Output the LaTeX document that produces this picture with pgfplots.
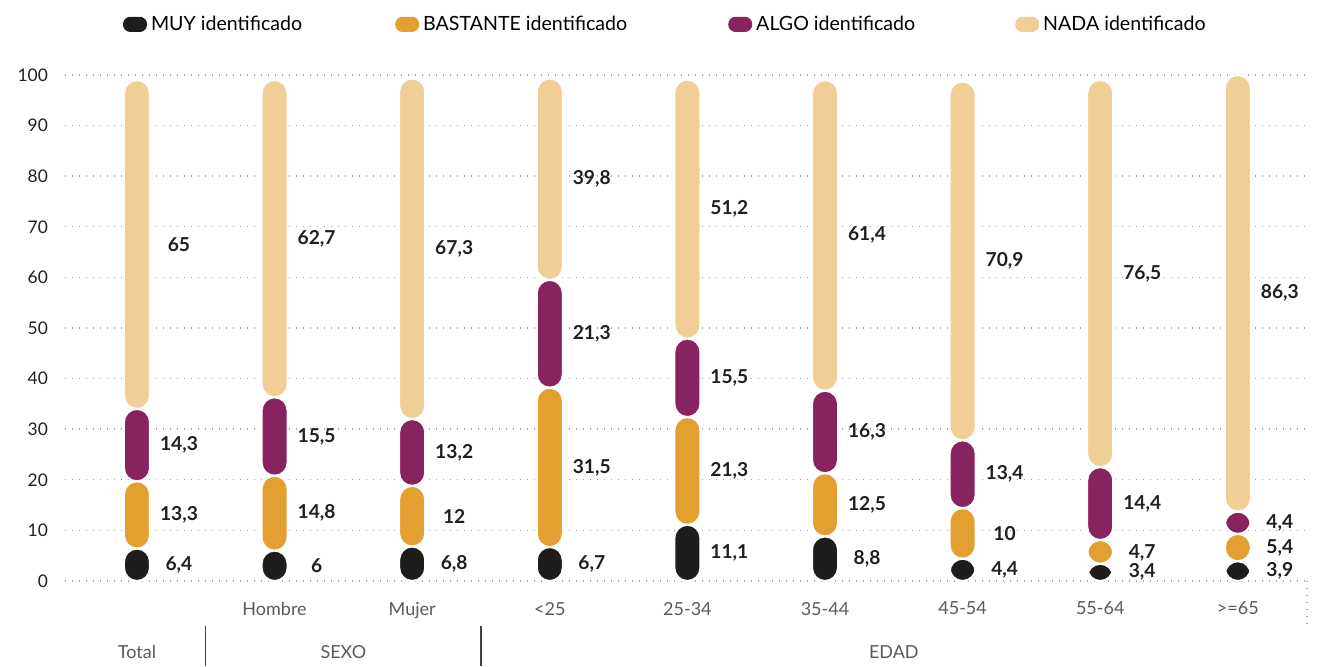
\documentclass[border=0pt]{standalone}
\usepackage{fontspec}
\setmainfont{Lato}
\usepackage{pgfplots}
\usepackage{pgfplotstable}
\pgfplotsset{compat=1.18}
\definecolor{cmuy}{RGB}{29,29,27}
\definecolor{cbas}{RGB}{227,159,48}
\definecolor{calgo}{RGB}{135,36,95}
\definecolor{cnada}{RGB}{240,206,149}
\definecolor{ctxt}{RGB}{90,90,90}

\pgfplotstableread{
x muy bastante algo nada
0 6.4 13.3 14.3 65
1 6 14.8 15.5 62.7
2 6.8 12 13.2 67.3
3 6.7 31.5 21.3 39.8
4 11.1 21.3 15.5 51.2
5 8.8 12.5 16.3 61.4
6 4.4 10 13.4 70.9
7 3.4 4.7 14.4 76.5
8 3.9 5.4 4.4 86.3
}\datos

% label positions = middle of each segment
\pgfplotstableread{
x y lab
0 3.2 6,4
0 13.05 13,3
0 26.85 14,3
0 66.5 65
1 3.0 6
1 13.4 14,8
1 28.55 15,5
1 67.65 62,7
2 3.4 6,8
2 12.8 12
2 25.4 13,2
2 65.65 67,3
3 3.35 6,7
3 22.45 31,5
3 48.85 21,3
3 79.4 39,8
4 5.55 11,1
4 21.75 21,3
4 40.15 15,5
4 73.5 51,2
5 4.4 8,8
5 15.05 12,5
5 29.45 16,3
5 68.3 61,4
6 2.2 4,4
6 9.4 10
6 21.1 13,4
6 63.25 70,9
7 1.8 3,4
7 5.6 4,7
7 15.3 14,4
7 60.75 76,5
8 1.95 3,9
8 6.6 5,4
8 11.5 4,4
8 56.85 86,3
}\etiquetas

\pgfplotsset{
  base/.style={scale only axis, width=620pt, height=253pt,
    xmin=-0.523, xmax=8.488, ymin=0, ymax=100, clip=false},
}

\begin{document}
\begin{tikzpicture}
\begin{axis}[base,
  ybar stacked, bar width=13pt,
  axis line style={draw=none}, tick style={draw=none},
  major tick length=0pt,
  ytick={0,10,...,100}, xtick={0,...,8},
  xticklabels={,Hombre,Mujer,{<25},25-34,35-44,45-54,55-64,{>=65}},
  /pgf/number format/assume math mode=true,
  yticklabel style={font=\fontsize{8.7}{10}\selectfont, text=black!88, xshift=-5pt},
  xticklabel style={font=\fontsize{9}{10}\selectfont, text=ctxt, yshift=-7pt},
  ymajorgrids,
  grid style={gray!70, line width=0.7pt, dash pattern=on 0.7pt off 2.8pt},
  legend columns=4,
  legend style={draw=none, inner sep=0pt, outer sep=0pt,
    at={(rel axis cs:0.0468,1.1)}, anchor=west,
    font=\fontsize{9.8}{11}\selectfont,
    /tikz/column 2/.style={column sep=44.5pt},
    /tikz/column 4/.style={column sep=48.5pt},
    /tikz/column 6/.style={column sep=48pt}},
]
\addplot[fill=cmuy, draw=white, line width=1pt, rounded corners=6.5pt,
  legend image code/.code={\fill[cmuy, rounded corners=3.2pt] (0pt,-3.3pt) rectangle (11pt,3.3pt);}]
  table[x=x, y=muy]{\datos};
\addplot[fill=cbas, draw=white, line width=1pt, rounded corners=6.5pt,
  legend image code/.code={\fill[cbas, rounded corners=3.2pt] (0pt,-3.3pt) rectangle (11pt,3.3pt);}]
  table[x=x, y=bastante]{\datos};
\addplot[fill=calgo, draw=white, line width=1pt, rounded corners=6.5pt,
  legend image code/.code={\fill[calgo, rounded corners=3.2pt] (0pt,-3.3pt) rectangle (11pt,3.3pt);}]
  table[x=x, y=algo]{\datos};
\addplot[fill=cnada, draw=white, line width=1pt, rounded corners=6.5pt,
  legend image code/.code={\fill[cnada, rounded corners=3.2pt] (0pt,-3.3pt) rectangle (11pt,3.3pt);}]
  table[x=x, y=nada]{\datos};
\legend{MUY identificado, BASTANTE identificado, ALGO identificado, NADA identificado}
\coordinate (O) at (rel axis cs:0,0);
\coordinate (T) at (rel axis cs:1,1);
\end{axis}

\begin{axis}[base, hide axis]
\addplot[draw=none, mark=none, nodes near coords, point meta=explicit symbolic,
  every node near coord/.append style={anchor=center, xshift=21pt,
    font=\fontsize{9.6}{10}\selectfont\bfseries, text=black!88}]
  table[x=x, y=y, meta=lab]{\etiquetas};
% group labels and separators
\node[font=\fontsize{9}{10}\selectfont, text=ctxt] at ([yshift=-35.5pt]axis cs:0,0) {Total};
\node[font=\fontsize{9}{10}\selectfont, text=ctxt] at ([yshift=-35.5pt]axis cs:1.5,0) {SEXO};
\node[font=\fontsize{9}{10}\selectfont, text=ctxt] at ([yshift=-35.5pt]axis cs:5.5,0) {EDAD};
\draw[black!75, line width=0.6pt] ([yshift=-22.5pt]axis cs:0.5,0) -- ([yshift=-42.5pt]axis cs:0.5,0);
\draw[black!75, line width=0.6pt] ([yshift=-22.5pt]axis cs:2.5,0) -- ([yshift=-42.5pt]axis cs:2.5,0);
\draw[gray!70, line width=0.7pt, dash pattern=on 0.7pt off 2.8pt] ([xshift=1pt]rel axis cs:1,0) -- ([xshift=1pt,yshift=-22pt]rel axis cs:1,0);
\end{axis}
\path ([shift={(-32.5pt,-42.5pt)}]O) rectangle ([shift={(7.5pt,37.5pt)}]T);
\end{tikzpicture}
\end{document}
